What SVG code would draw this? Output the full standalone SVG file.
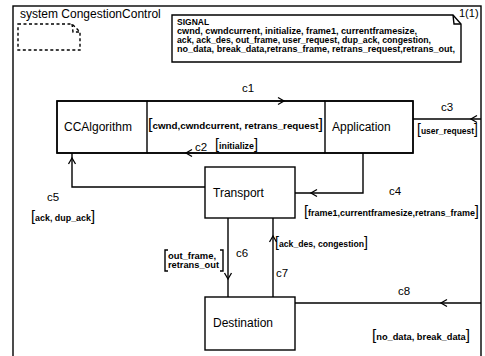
<svg xmlns="http://www.w3.org/2000/svg" xmlns:xlink="http://www.w3.org/1999/xlink" width="485" height="356" viewBox="0 0 485 356">
<style>
.ln{fill:none;stroke:#000;stroke-width:1.4}
.box{fill:#fff;stroke:#000;stroke-width:1.4}
.t{font-family:"Liberation Sans",Arial,sans-serif;fill:#000}
.nm{font-size:12px}
.ch{font-size:11.5px}
.sg{font-size:8.5px;font-weight:bold}
.br{font-size:14px;font-weight:normal}
.dash{fill:none;stroke:#000;stroke-width:1.4;stroke-dasharray:3,2.5}
</style>
<defs>
<path id="chev" d="M-6,-3.5 L0,0 L-6,3.5" fill="none" stroke="#000" stroke-width="1.3"/>
</defs>
<g id="frame">
<rect x="13" y="6" width="468" height="360" class="ln"/>
<text x="20" y="18" class="t" font-size="12">system CongestionControl</text>
<text x="459" y="17" class="t" font-size="11">1(1)</text>
</g>
<g id="package">
<path d="M18,24 H72 L80,32 V50 H18 Z" class="dash"/>
<path d="M72,24 L73,32 L80,32" class="dash"/>
</g>
<g id="signals">
<path d="M172,15 H453 L461,24 V62 H172 Z" class="box"/>
<path d="M453,15 L454,24 L461,24" class="ln"/>
<text x="177" y="25" class="t sg" font-size="8">SIGNAL</text>
<text x="177" y="34" class="t sg" textLength="240" lengthAdjust="spacingAndGlyphs">cwnd, cwndcurrent, initialize,  frame1, currentframesize,</text>
<text x="177" y="43" class="t sg" textLength="254" lengthAdjust="spacingAndGlyphs">ack, ack_des, out_frame, user_request, dup_ack, congestion,</text>
<text x="177" y="52" class="t sg" textLength="278" lengthAdjust="spacingAndGlyphs">no_data, break_data,retrans_frame, retrans_request,retrans_out,</text>
</g>
<g id="connectors">
<path d="M147,101 H325" class="ln"/>
<use xlink:href="#chev" transform="translate(284,101)"/>
<path d="M147,153 H325" class="ln"/>
<use xlink:href="#chev" transform="translate(186,153) rotate(180)"/>
<path d="M413,119 H481" class="ln"/>
<use xlink:href="#chev" transform="translate(471,119) rotate(180)"/>
<path d="M205,187 H72 V153" class="ln"/>
<use xlink:href="#chev" transform="translate(72,158) rotate(-90)"/>
<path d="M363,153 V193 H295" class="ln"/>
<use xlink:href="#chev" transform="translate(311,193) rotate(180)"/>
<path d="M228,218 V297" class="ln"/>
<use xlink:href="#chev" transform="translate(228,279) rotate(90)"/>
<path d="M273,297 V218" class="ln"/>
<use xlink:href="#chev" transform="translate(273,236) rotate(-90)"/>
<path d="M295,303 H481" class="ln"/>
<use xlink:href="#chev" transform="translate(441,303) rotate(180)"/>
<text x="242" y="92" class="t ch">c1</text>
<text x="148" y="129" class="t sg" textLength="175" lengthAdjust="spacingAndGlyphs"><tspan class="br">[</tspan>cwnd,cwndcurrent, retrans_request<tspan class="br">]</tspan></text>
<text x="195" y="151" class="t ch">c2</text>
<text x="215" y="149" class="t sg" textLength="43" lengthAdjust="spacingAndGlyphs"><tspan class="br">[</tspan>initialize<tspan class="br">]</tspan></text>
<text x="441" y="111" class="t ch">c3</text>
<text x="417" y="134" class="t sg" textLength="61" lengthAdjust="spacingAndGlyphs"><tspan class="br">[</tspan>user_request<tspan class="br">]</tspan></text>
<text x="389" y="195" class="t ch">c4</text>
<text x="304" y="216" class="t sg" textLength="175" lengthAdjust="spacingAndGlyphs"><tspan class="br">[</tspan>frame1,currentframesize,retrans_frame<tspan class="br">]</tspan></text>
<text x="47" y="201" class="t ch">c5</text>
<text x="31" y="221" class="t sg" textLength="64" lengthAdjust="spacingAndGlyphs"><tspan class="br">[</tspan>ack, dup_ack<tspan class="br">]</tspan></text>
<text x="236" y="257" class="t ch">c6</text>
<text x="168" y="259" class="t sg" textLength="48" lengthAdjust="spacingAndGlyphs">out_frame,</text>
<text x="168" y="268" class="t sg" textLength="51" lengthAdjust="spacingAndGlyphs">retrans_out</text>
<path d="M168,250 H165 V271 H168 M220,250 H223 V271 H220" class="ln" stroke-width="1.1"/>
<text x="275" y="247" class="t sg" textLength="93" lengthAdjust="spacingAndGlyphs"><tspan class="br">[</tspan>ack_des, congestion<tspan class="br">]</tspan></text>
<text x="276" y="277" class="t ch">c7</text>
<text x="398" y="295" class="t ch">c8</text>
<text x="372" y="340" class="t sg" textLength="98" lengthAdjust="spacingAndGlyphs"><tspan class="br">[</tspan>no_data, break_data<tspan class="br">]</tspan></text>
</g>
<g id="block">
<path d="M57,101 H413 V153 H57 Z" class="ln"/>
</g>
<g id="CCAlgorithm">
<path d="M57,101 H147 V153 H57 Z" class="ln"/>
<text x="64" y="131" class="t nm">CCAlgorithm</text>
</g>
<g id="Application">
<path d="M325,101 H413 V153 H325 Z" class="ln"/>
<text x="332" y="131" class="t nm">Application</text>
</g>
<g id="Transport">
<rect x="205" y="167" width="90" height="51" class="box"/>
<text x="213" y="197" class="t nm">Transport</text>
</g>
<g id="Destination">
<rect x="205" y="297" width="90" height="53" class="box"/>
<text x="213" y="327" class="t nm">Destination</text>
</g>
</svg>
